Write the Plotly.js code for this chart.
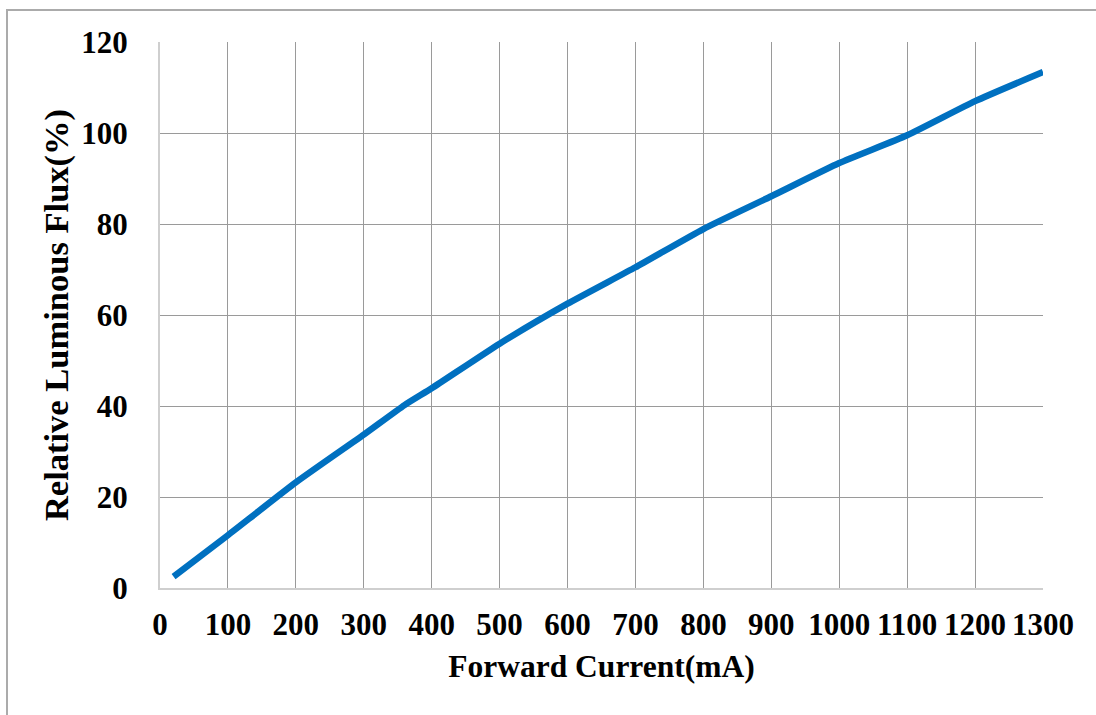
<!DOCTYPE html>
<html>
<head>
<meta charset="utf-8">
<script src="https://cdn.plot.ly/plotly-3.0.1.min.js"></script>
<style>
  html, body { margin: 0; padding: 0; background: #fff; }
  #wrap { position: relative; width: 1096px; height: 715px; overflow: hidden; }
  #chart { width: 1096px; height: 715px; }
  #frame { position: absolute; left: 6px; top: 9px; width: 1200px; height: 800px;
           border: 2px solid #ababab; pointer-events: none; box-sizing: border-box; }
</style>
</head>
<body>
<div id="wrap">
  <div id="chart"></div>
  <div id="frame"></div>
</div>
<script>
const currentMA = [20, 100, 200, 300, 360, 400, 500, 600, 700, 800, 900, 1000, 1100, 1200, 1300];
const relativeFlux = [2.5, 11.6, 23.2, 33.7, 40.2, 43.9, 53.7, 62.5, 70.5, 78.9, 86.1, 93.4, 99.5, 107.0, 113.4];
const xTicks = [0, 100, 200, 300, 400, 500, 600, 700, 800, 900, 1000, 1100, 1200, 1300];
const yTicks = [0, 20, 40, 60, 80, 100, 120];
const xTitle = 'Forward Current(mA)';
const yTitle = 'Relative Luminous Flux(%)';

const font = 'Liberation Serif, Times New Roman, serif';

Plotly.newPlot('chart', [{
  x: currentMA,
  y: relativeFlux,
  type: 'scatter',
  mode: 'lines',
  line: { color: '#0070C0', width: 6.5, shape: 'spline', smoothing: 0.5 },
  hoverinfo: 'skip'
}], {
  width: 1096,
  height: 715,
  margin: { l: 160, r: 52.5, t: 42, b: 127 },
  paper_bgcolor: '#ffffff',
  plot_bgcolor: '#ffffff',
  showlegend: false,
  font: { family: font, color: '#000', size: 31 },
  xaxis: {
    range: [0, 1300],
    tickvals: xTicks,
    ticktext: xTicks.map(String),
    showgrid: true,
    gridcolor: '#9a9a9a',
    gridwidth: 1,
    showline: true,
    linecolor: '#cfcfcf',
    linewidth: 2,
    zeroline: false,
    ticks: '',
    ticklen: 0,
    ticklabelstandoff: 8,
    tickfont: { family: font, size: 31, color: '#000', weight: 'bold' },
    title: { text: xTitle, font: { family: font, size: 31.5, color: '#000', weight: 'bold' }, standoff: 14 }
  },
  yaxis: {
    range: [0, 120],
    tickvals: yTicks,
    ticktext: yTicks.map(String),
    showgrid: true,
    gridcolor: '#9a9a9a',
    gridwidth: 1,
    showline: true,
    linecolor: '#cfcfcf',
    linewidth: 2,
    zeroline: false,
    ticks: '',
    ticklen: 0,
    ticklabelstandoff: 24,
    tickfont: { family: font, size: 31, color: '#000', weight: 'bold' },
    title: { text: yTitle, font: { family: font, size: 34.5, color: '#000', weight: 'bold' }, standoff: 2 }
  }
}, { displayModeBar: false, staticPlot: true });
</script>
</body>
</html>
